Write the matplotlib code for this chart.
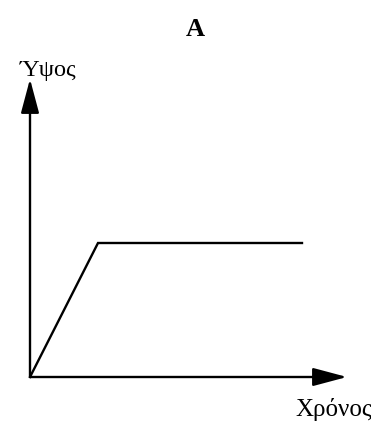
import matplotlib
matplotlib.use("Agg")
import matplotlib.pyplot as plt

# Data (time vs height)
time = [0, 1, 4]
height = [0, 1, 1]
title = "A"
xlabel = "Χρόνος"
ylabel = "Ύψος"

W, H = 371, 421
fig = plt.figure(figsize=(W / 100, H / 100), dpi=100)
fig.patch.set_facecolor("white")

# axes box in pixels: left 30, right 347, top 79, bottom 377
left, right, top, bottom = 30, 347, 79, 377
ax = fig.add_axes([left / W, 1 - bottom / H, (right - left) / W, (bottom - top) / H])
ax.set_xlim(0, (right - left) / 68.0)
ax.set_ylim(0, (bottom - top) / 134.0)
for s in ax.spines.values():
    s.set_visible(False)
ax.set_xticks([])
ax.set_yticks([])
ax.patch.set_alpha(0)

ax.plot(time, height, color="black", lw=1.7, clip_on=False, solid_joinstyle="miter")

arrow = dict(arrowstyle="-|>,head_length=1.5,head_width=0.4", mutation_scale=14,
             color="black", lw=1.7, shrinkA=0, shrinkB=0)
ax.annotate("", xy=(1, 0), xytext=(0, 0), xycoords="axes fraction",
            textcoords="axes fraction", arrowprops=arrow, annotation_clip=False)
ax.annotate("", xy=(0, 1), xytext=(0, 0), xycoords="axes fraction",
            textcoords="axes fraction", arrowprops=arrow, annotation_clip=False)

serif = ["Liberation Serif", "DejaVu Serif"]
fig.text(195.5 / W, 1 - 36 / H, title, ha="center", va="baseline",
         fontsize=19, fontweight="bold", family=serif)
fig.text(20 / W, 1 - 76 / H, ylabel, ha="left", va="baseline",
         fontsize=17.5, family=serif)
fig.text(295 / W, 1 - 416 / H, xlabel, ha="left", va="baseline",
         fontsize=18, family=serif)

fig.savefig("out.png", dpi=100, facecolor="white")
